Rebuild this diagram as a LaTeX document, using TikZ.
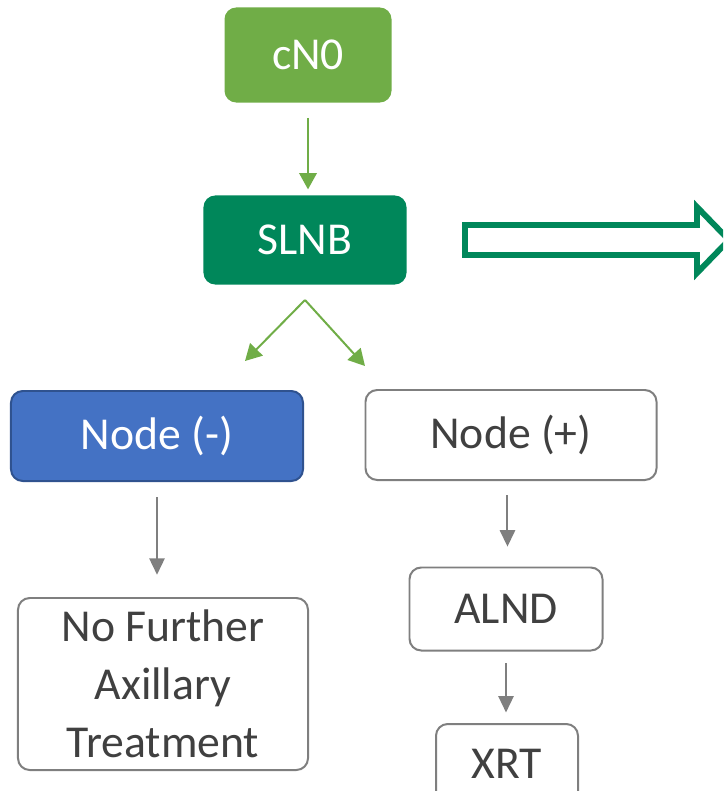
\documentclass[tikz,border=0pt]{standalone}
\usepackage{fontspec}
\setmainfont{Carlito}
\usetikzlibrary{arrows.meta}

\definecolor{lightgreen}{HTML}{70AD47}
\definecolor{darkgreen}{HTML}{00875A}
\definecolor{nodeblue}{HTML}{4472C4}
\definecolor{blueborder}{HTML}{2F528F}
\definecolor{boxgray}{HTML}{7F7F7F}
\definecolor{textgray}{HTML}{404040}

\begin{document}
\begin{tikzpicture}[
    x=0.03cm,
    y=-0.03cm,
    box/.style={rounded corners=10pt, align=center, inner sep=0pt,
        font=\fontsize{39}{49.5}\selectfont},
    filledbox/.style={box, text=white},
    plainbox/.style={box, draw=boxgray, line width=1.7pt, fill=white, text=textgray},
    greenarrow/.style={-{Triangle[length=14pt, width=15pt]}, lightgreen, line width=1.7pt},
    grayarrow/.style={-{Triangle[length=14pt, width=13pt]}, boxgray, line width=1.7pt}
]

    % Fix the picture size
    \useasboundingbox (0,0) rectangle (723,791);
    \clip (0,0) rectangle (723,791);

    % Draw the boxes
    \node[filledbox, fill=lightgreen, minimum width=5.01cm, minimum height=2.85cm] (cno) at (308,55) {cN0};
    \node[filledbox, fill=darkgreen, minimum width=6.09cm, minimum height=2.67cm] (slnb) at (305,240) {SLNB};
    \node[filledbox, fill=nodeblue, draw=blueborder, line width=1.7pt,
        minimum width=8.76cm, minimum height=2.7cm] (nodeneg) at (157,436) {Node (-)};
    \node[plainbox, minimum width=8.73cm, minimum height=2.7cm] (nodepos) at (511,435) {Node (+)};
    \node[plainbox, minimum width=8.7cm, minimum height=5.16cm] (nofurther) at (163,684)
        {No Further\\Axillary\\Treatment};
    \node[plainbox, minimum width=5.79cm, minimum height=2.49cm] (alnd) at (506,609) {ALND};
    \node[plainbox, minimum width=4.26cm, minimum height=2.4cm] (xrt) at (507,764) {XRT};

    % Define the split point below SLNB
    \coordinate (split) at (305,300);

    % Draw the connectors
    \draw[greenarrow] ([yshift=-13pt]cno.south) -- ([yshift=5pt]cno.south |- slnb.north);
    \draw[greenarrow] (split) -- (245,361);
    \draw[greenarrow] (split) -- (365,366);
    \draw[grayarrow] ([yshift=-13pt]nodeneg.south) -- ([yshift=19pt]nodeneg.south |- nofurther.north);
    \draw[grayarrow] ([xshift=-3pt,yshift=-12pt]nodepos.south) -- ([xshift=-3pt,yshift=17pt]nodepos.south |- alnd.north);
    \draw[grayarrow] ([yshift=-10pt]alnd.south) -- ([yshift=9pt]alnd.south |- xrt.north);

    % Draw the block arrow
    \draw[darkgreen, line width=5pt, fill=white, line join=miter]
        (465,225) -- (697,225) -- (697,207) -- (729,240) -- (697,273)
        -- (697,255) -- (465,255) -- cycle;

\end{tikzpicture}
\end{document}
